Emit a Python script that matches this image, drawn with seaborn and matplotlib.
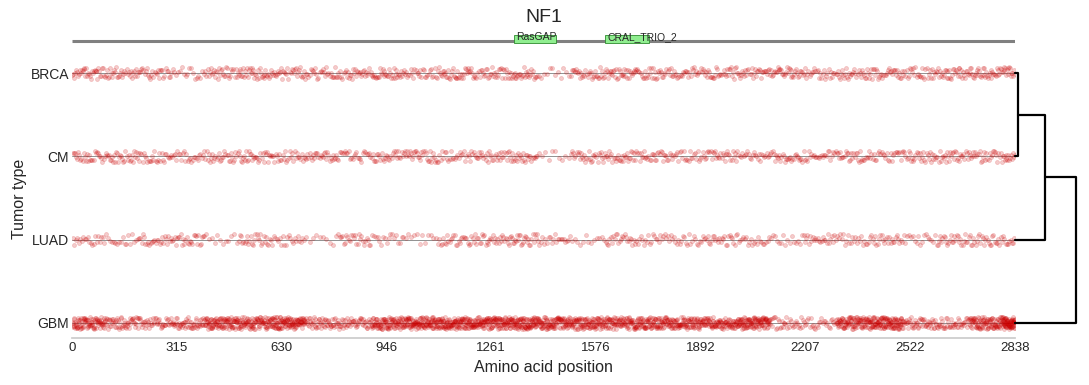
import numpy as np
import pandas as pd
import matplotlib
matplotlib.use('Agg')
import matplotlib.pyplot as plt
from matplotlib.patches import Rectangle
import seaborn as sns

protein = 'NF1'
protein_length = 2838
tumor_types = ['BRCA', 'CM', 'LUAD', 'GBM']

# mutation counts per 100-aa window
bin_size = 100
brca_counts = [36, 32, 30, 18, 32, 36, 32, 30, 32, 36, 28, 36, 32, 36, 12,
               32, 36, 32, 30, 32, 32, 36, 28, 32, 32, 30, 36, 38, 16]
cm_counts = [30, 32, 28, 26, 30, 32, 28, 30, 26, 30, 32, 26, 30, 32, 10,
             30, 32, 30, 26, 30, 26, 30, 26, 30, 26, 30, 32, 30, 14]
luad_counts = [22, 18, 26, 28, 12, 28, 22, 10, 26, 18, 12, 26, 28, 32, 22,
               12, 26, 22, 22, 26, 22, 16, 26, 22, 26, 18, 28, 28, 10]
gbm_counts = [90, 55, 45, 55, 100, 95, 115, 55, 50, 100, 115, 115, 115, 120, 105,
              100, 95, 100, 95, 90, 115, 35, 28, 100, 120, 50, 45, 100, 75]

domain_names = ['RasGAP', 'CRAL_TRIO_2']
domain_starts = [1330, 1604]
domain_ends = [1457, 1737]

xtick_labels = [0, 315, 630, 946, 1261, 1576, 1892, 2207, 2522, 2838]

# dendrogram merge heights (BRCA+CM, +LUAD, +GBM)
merge_heights = [0.05, 0.48, 0.985]


def spread(counts):
    pos = []
    for i, n in enumerate(counts):
        lo = i * bin_size
        hi = min(lo + bin_size, protein_length)
        pos.extend(lo + (np.arange(n) + 0.5) * (hi - lo) / n)
    return pos


rows = []
for t, c in zip(tumor_types, [brca_counts, cm_counts, luad_counts, gbm_counts]):
    for p in spread(c):
        rows.append((t, p))
df = pd.DataFrame(rows, columns=['Tumor type', 'Amino acid position'])

sns.set_theme(style='whitegrid')
plt.rcParams['font.family'] = ['Liberation Sans', 'DejaVu Sans']

W, H = 1089, 385
fig = plt.figure(figsize=(W / 100, H / 100), dpi=100)
left, right = 72 / W, 1015 / W
bottom, top = 1 - 338 / H, 1 - 60 / H
ax = fig.add_axes([left, bottom, right - left, top - bottom])

for i in range(len(tumor_types)):
    ax.axhline(i, color='gray', lw=0.6, zorder=0)

sns.stripplot(data=df, x='Amino acid position', y='Tumor type', order=tumor_types,
              orient='h', color='#cc0000', alpha=0.2, size=2.9, jitter=0.07,
              linewidth=0.5, edgecolor='#cc0000', ax=ax)
ax.grid(False)
ax.set_xlim(0, protein_length)
ylim = (3 + 15 / 83.3, -13 / 83.3)
ax.set_ylim(*ylim)
ax.set_xticks(xtick_labels)
ax.set_xticklabels([str(v) for v in xtick_labels], fontsize=9.5)
ax.tick_params(axis='y', labelsize=10, pad=2, length=0)
ax.tick_params(axis='x', pad=3, length=0)
ax.set_xlabel('Amino acid position', fontsize=11.5, labelpad=4)
ax.set_ylabel('Tumor type', fontsize=11.5, labelpad=3)
for s in ['left', 'top', 'right']:
    ax.spines[s].set_visible(False)
ax.spines['bottom'].set_color('#cccccc')

# domain track
axd = fig.add_axes([left, 1 - 52 / H, right - left, 22 / H])
axd.set_xlim(0, protein_length)
axd.set_ylim(0, 1)
axd.axis('off')
axd.plot([0, protein_length], [0.5, 0.5], color='gray', lw=2.2, solid_capstyle='butt')
for name, s, e in zip(domain_names, domain_starts, domain_ends):
    axd.add_patch(Rectangle((s, 0.41), e - s, 0.36, facecolor='lightgreen',
                            edgecolor='#2e8b2e', lw=0.6, zorder=3))
    axd.text(s + 8, 0.66, name, fontsize=7.5, ha='left', va='center', zorder=4)

fig.text((72 + 1015) / 2 / W, 1 - 17 / H, protein, ha='center', va='center', fontsize=14,
         color='.15')

# dendrogram
axg = fig.add_axes([right, bottom, 62 / W, top - bottom])
axg.set_xlim(0, 1)
axg.set_ylim(*ylim)
axg.axis('off')
h1, h2, h3 = merge_heights
kw = dict(color='black', lw=1.6, clip_on=False)
axg.plot([0, h1, h1, 0], [0, 0, 1, 1], **kw)
axg.plot([h1, h2, h2, 0], [0.5, 0.5, 2, 2], **kw)
axg.plot([h2, h3, h3, 0], [1.25, 1.25, 3, 3], **kw)

fig.savefig('out.png', dpi=100)
